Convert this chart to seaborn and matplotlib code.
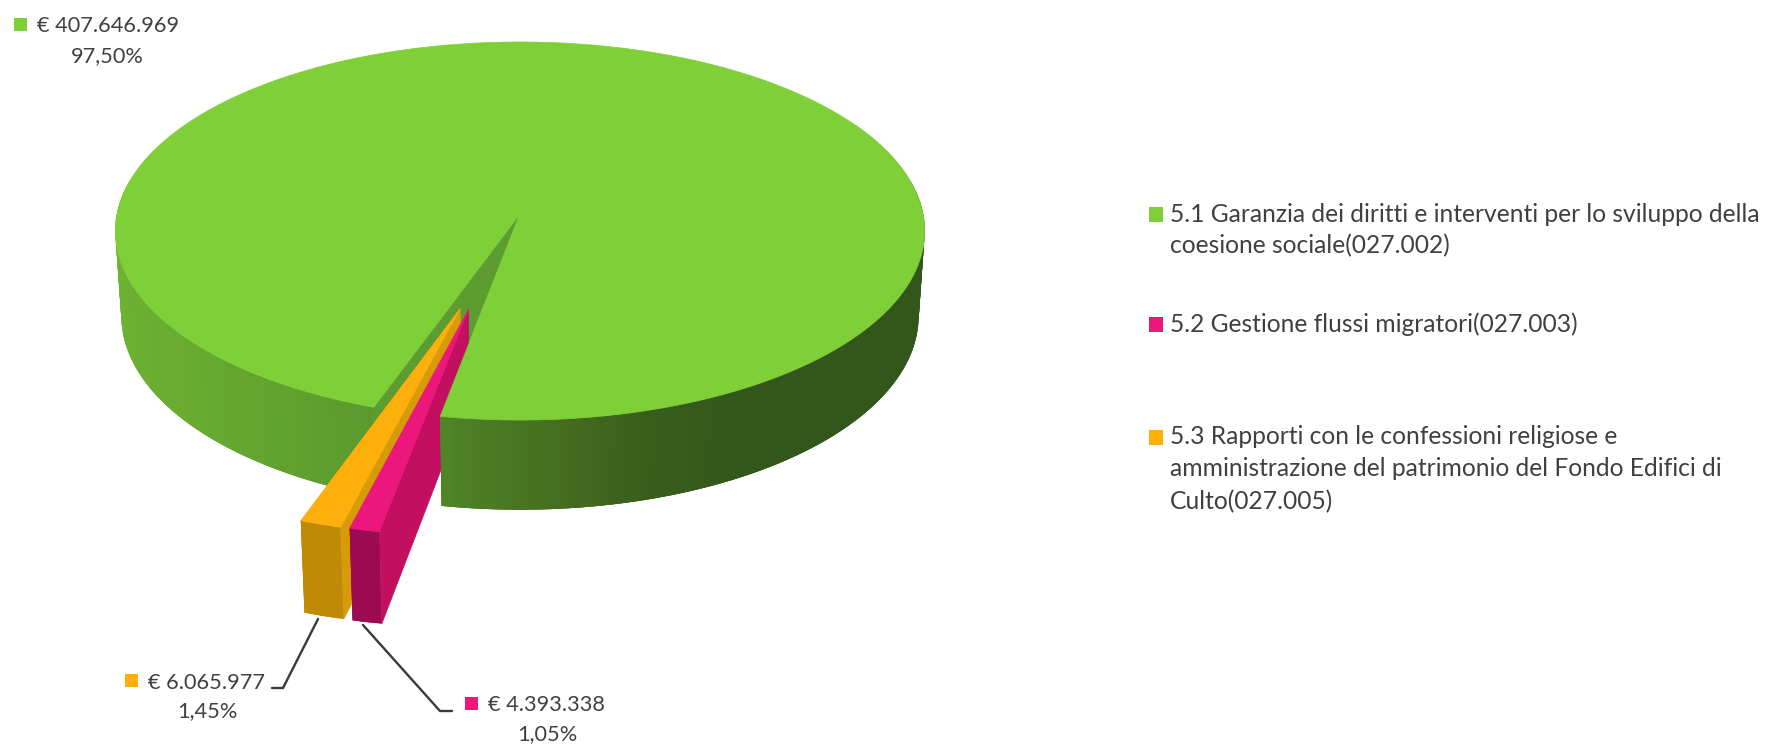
import numpy as np
import matplotlib
matplotlib.use("Agg")
import matplotlib.pyplot as plt
from matplotlib.collections import PolyCollection
from matplotlib.colors import to_rgb
import seaborn as sns

# Budget per programme, in euro, with the shares as printed
categories = ["5.1", "5.2", "5.3"]
amounts = [407646969, 4393338, 6065977]
amount_labels = ["€ 407.646.969", "€ 4.393.338", "€ 6.065.977"]
share_labels = ["97,50%", "1,05%", "1,45%"]
legend_lines = [
    ["5.1 Garanzia dei diritti e interventi per lo sviluppo della", "coesione sociale(027.002)"],
    ["5.2 Gestione flussi migratori(027.003)"],
    ["5.3 Rapporti con le confessioni religiose e",
     "amministrazione del patrimonio del Fondo Edifici di",
     "Culto(027.005)"],
]

sns.set_theme(style="white")
plt.rcParams["font.family"] = ["Lato", "DejaVu Sans"]
TEXT = "#404040"
top_colors = sns.color_palette(["#7FCF39", "#EC177C", "#FDB00C"])
side_colors = {1: "#C20F60", 2: "#D69B06"}
front_colors = {1: "#9C0A54", 2: "#C08A06"}

# Perspective camera for the tilted disc
CX, CY, RX, KY, DEPTH = 520.0, 214.0, 403.0, 187.5, 86.0
PERSP, PERSP_Z = 0.09, 0.015
START = 19.4


def project(theta, r=1.0, z=0.0, offset=(0.0, 0.0)):
    """Map clockwise angle from the front of the disc onto the canvas."""
    t = np.radians(theta)
    u = -r * np.sin(t) + offset[0]
    v = -r * np.cos(t) + offset[1]
    w = 1 + PERSP * v + PERSP_Z * z
    return np.column_stack([CX + RX * u / w, CY + (-KY * v + DEPTH * z) / w])


def sector(start, sweep, offset=(0.0, 0.0)):
    arc = project(np.linspace(start, start + sweep, max(int(abs(sweep) * 2), 4)), offset=offset)
    return np.vstack([project(np.array([0.0]), r=0.0, offset=offset), arc])


def wall(start, sweep, color_of, zorder, offset=(0.0, 0.0)):
    # Each strip runs on under the next one, so no seams appear between them
    angles = np.linspace(start, start + sweep, max(int(abs(sweep) * 1.5), 3))
    top = project(angles, offset=offset)
    bot = project(angles, z=1.0, offset=offset)
    n = len(angles)
    quads, cols = [], []
    for i in range(n - 1):
        j = min(i + 3, n - 1)
        quads.append(np.vstack([top[i:j + 1], bot[i:j + 1][::-1]]))
        cols.append(color_of(0.5 * (angles[i] + angles[i + 1])))
    ax.add_collection(PolyCollection(quads, facecolors=cols, edgecolors="none", linewidths=0, zorder=zorder))


def shade(stops):
    a = np.array([s[0] for s in stops], float)
    rgb = np.array([to_rgb(s[1]) for s in stops])
    return lambda th: tuple(np.interp(th, a, rgb[:, i]) for i in range(3))


fig = plt.figure(figsize=(17.69, 7.45), dpi=100, facecolor="white")
ax = fig.add_axes([0, 0, 1, 1])
ax.set_xlim(0, 1769)
ax.set_ylim(745, 0)
ax.axis("off")

sweeps = 360 * np.array(amounts, float) / sum(amounts)
green_end = START + sweeps[0]
pink_start = green_end - 360
gold_start = pink_start + sweeps[1]

left_shade = shade([(19, "#5A9A2E"), (50, "#68AB30"), (100, "#72B833")])
right_shade = shade([(-100, "#33561A"), (-32, "#33561A"), (-17, "#385E1B"), (-4, "#456F20"), (11, "#508628")])

# Main slice: the part left of the notch sits behind the small slices
wall(100, START - 100, left_shade, 1)
cut = np.vstack([project(np.array([START]), r=0.0), project(np.array([START])),
                 project(np.array([START]), z=1.0), project(np.array([START]), r=0.0, z=1.0)])
ax.fill(cut[:, 0], cut[:, 1], color="#5C9C30", lw=0.5, zorder=2)
green_top = sector(START, sweeps[0])
ax.fill(green_top[:, 0], green_top[:, 1], color=top_colors[0], lw=0.5, zorder=3)

# Pulled-out slices, each with its own displacement towards the viewer
offsets = {
    2: 0.503 * np.array([-np.sin(np.radians(16.4)), -np.cos(np.radians(16.4))]),
    1: 0.502 * np.array([-np.sin(np.radians(14.1)), -np.cos(np.radians(14.1))]),
}
starts = {1: pink_start, 2: gold_start}
for z_base, idx in zip((4, 8), (2, 1)):
    off = offsets[idx]
    s0, sw = starts[idx], sweeps[idx]
    a0 = np.array([s0])
    side = np.vstack([project(a0, r=0.0, offset=off), project(a0, offset=off),
                      project(a0, z=1.0, offset=off), project(a0, r=0.0, z=1.0, offset=off)])
    ax.fill(side[:, 0], side[:, 1], color=side_colors[idx], lw=0.5, zorder=z_base)
    wall(s0, sw, lambda th, c=front_colors[idx]: to_rgb(c), z_base + 1, offset=off)
    t = sector(s0, sw, offset=off)
    ax.fill(t[:, 0], t[:, 1], color=top_colors[idx], lw=0.5, zorder=z_base + 2)

# Main slice again, right of the notch: it hides the inner end of the pink slice
wall(-100, 100 + pink_start, right_shade, 12)
front_top = sector(pink_start, -130)
ax.fill(front_top[:, 0], front_top[:, 1], color=top_colors[0], lw=0.5, zorder=13)

# Leader lines
ax.plot([318, 283, 272], [619, 688, 688], color="#3A3A3A", lw=1.7, zorder=3, solid_joinstyle="miter")
ax.plot([363, 440, 452], [625, 711, 711], color="#3A3A3A", lw=1.7, zorder=3, solid_joinstyle="miter")

LABEL_FS = 15.7
LEGEND_FS = 17.7


def swatch(x, y, color, w=13, h=13):
    ax.fill([x, x + w, x + w, x], [y, y, y + h, y + h], color=color, lw=0, zorder=20)


# Data labels
label_spots = {
    0: (14, 18, 37, 26, 107, 56),
    1: (465, 697, 488, 705, 547, 734),
    2: (125, 674, 148, 683, 207, 711),
}
for i, (sx, sy, tx, ty, px, py) in label_spots.items():
    swatch(sx, sy, top_colors[i])
    ax.text(tx, ty, amount_labels[i], color=TEXT, fontsize=LABEL_FS, va="center", ha="left", zorder=20)
    ax.text(px, py, share_labels[i], color=TEXT, fontsize=LABEL_FS, va="center", ha="center", zorder=20)

# Legend
legend_y = [[214, 246], [324], [437, 469, 502]]
for i, (lines, ys) in enumerate(zip(legend_lines, legend_y)):
    swatch(1149, ys[0] - 7, top_colors[i], 14, 15)
    for line, y in zip(lines, ys):
        ax.text(1170, y, line, color=TEXT, fontsize=LEGEND_FS, va="center", ha="left", zorder=20)

fig.savefig("out.png", dpi=100, facecolor="white")
